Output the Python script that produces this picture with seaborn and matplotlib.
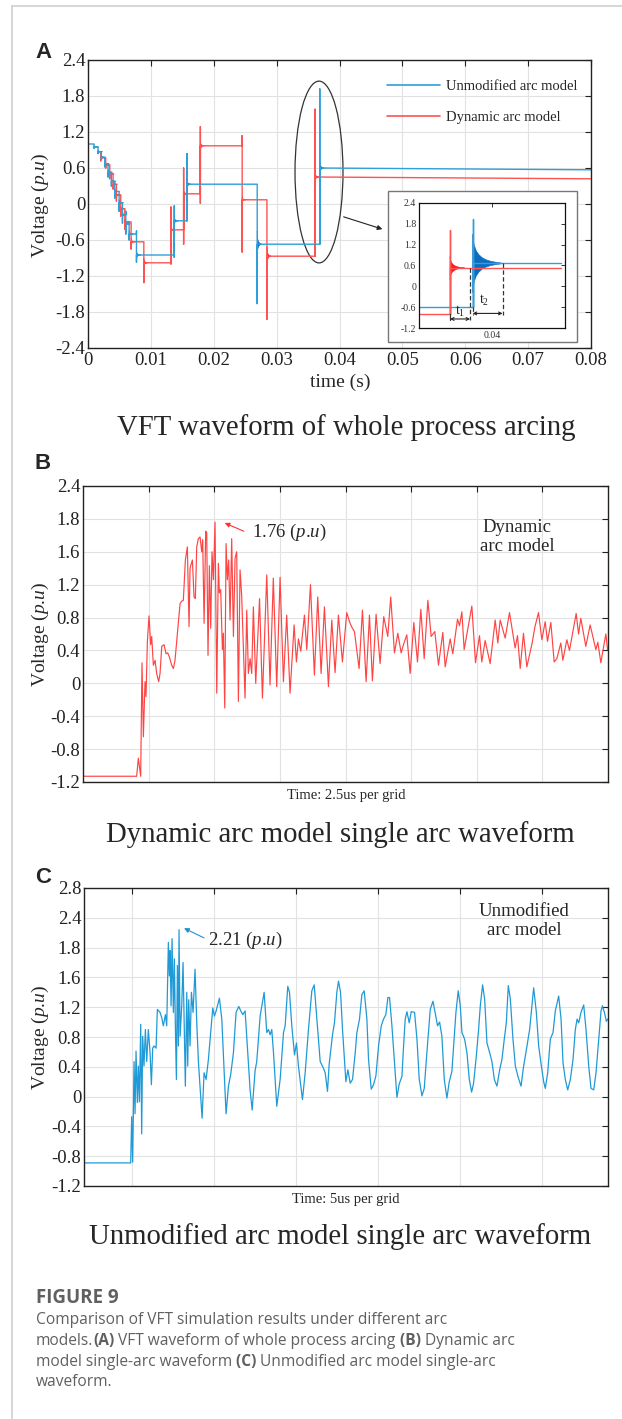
import numpy as np
import pandas as pd
import matplotlib
matplotlib.use("Agg")
import matplotlib.pyplot as plt
import seaborn as sns
from matplotlib.patches import Ellipse, Rectangle
from matplotlib.lines import Line2D

# ====================== DATA ======================
# ---- Panel A : whole-process arcing (time s, voltage p.u.) ----
A_BLUE_T = [0.0, 0.00096, 0.00160, 0.00213, 0.00266, 0.00319, 0.00372, 0.00426, 0.00495,
            0.00548, 0.00601, 0.00654, 0.00771, 0.01372, 0.01574, 0.02691, 0.03686]
A_BLUE_LEVEL = [1.00, 0.95, 0.87, 0.78, 0.67, 0.53, 0.38, 0.21, 0.02,
                -0.18, -0.33, -0.50, -0.85, -0.28, 0.33, -0.67, 0.60]
A_BLUE_HI = [1.39, 0.99, 0.93, 0.85, 0.75, 0.62, 0.48, 0.32, 0.15,
             0.00, -0.12, -0.30, -0.45, -0.03, 0.84, 0.33, 1.92]
A_BLUE_LO = [1.00, 0.93, 0.84, 0.74, 0.62, 0.45, 0.30, 0.10, -0.12,
             -0.32, -0.50, -0.60, -0.97, -0.89, -0.28, -1.66, -0.67]
A_BLUE_RING = [0, 0.02, 0.03, 0.03, 0.03, 0.04, 0.04, 0.05, 0.05,
               0.05, 0.05, 0.06, 0.08, 0.07, 0.09, 0.22, 0.13]
A_BLUE_END = 0.57

A_RED_T = [0.00202, 0.00282, 0.00346, 0.00399, 0.00452, 0.00521, 0.00585, 0.00686,
           0.00888, 0.01319, 0.01521, 0.01787, 0.02452, 0.02846, 0.03612]
A_RED_LEVEL = [0.77, 0.65, 0.50, 0.33, 0.15, -0.08, -0.30, -0.63,
               -0.98, -0.43, 0.17, 0.97, 0.07, -0.87, 0.45]
A_RED_HI = [0.85, 0.72, 0.58, 0.42, 0.25, 0.03, -0.18, -0.50,
            -0.63, -0.05, 0.60, 1.29, 1.14, 0.07, 1.58]
A_RED_LO = [0.72, 0.60, 0.42, 0.25, 0.05, -0.20, -0.42, -0.75,
            -1.31, -1.00, -0.67, 0.01, -0.80, -1.92, -0.87]
A_RED_RING = [0.03, 0.03, 0.03, 0.04, 0.04, 0.04, 0.05, 0.06,
              0.08, 0.06, 0.08, 0.08, 0.05, 0.16, 0.08]
A_RED_END = 0.42

A_XTICKS = [0, 0.01, 0.02, 0.03, 0.04, 0.05, 0.06, 0.07, 0.08]
A_XTICK_LABELS = ["0", "0.01", "0.02", "0.03", "0.04", "0.05", "0.06", "0.07", "0.08"]
A_YTICKS = [2.4, 1.8, 1.2, 0.6, 0, -0.6, -1.2, -1.8, -2.4]
A_YTICK_LABELS = ["2.4", "1.8", "1.2", "0.6", "0", "-0.6", "-1.2", "-1.8", "-2.4"]
A_LEGEND = ["Unmodified arc model", "Dynamic arc model"]

# ---- Panel A inset ----
IN_BLUE_T = [0.0380, 0.03947]
IN_BLUE_LEVEL = [-0.60, 0.66]
IN_BLUE_HI = [-0.60, 1.95]
IN_BLUE_LO = [-0.60, -0.60]
IN_BLUE_RING = [0, 0.85]
IN_BLUE_END = 0.66
IN_RED_T = [0.0380, 0.03885]
IN_RED_LEVEL = [-0.80, 0.53]
IN_RED_HI = [-0.80, 1.62]
IN_RED_LO = [-0.80, -0.80]
IN_RED_RING = [0, 0.35]
IN_RED_END = 0.53
IN_T1 = [0.03885, 0.03940]
IN_T2 = [0.03947, 0.04029]
IN_YTICKS = [2.4, 1.8, 1.2, 0.6, 0, -0.6, -1.2]
IN_YTICK_LABELS = ["2.4", "1.8", "1.2", "0.6", "0", "-0.6", "-1.2"]
IN_XTICKS = [0.04]
IN_XTICK_LABELS = ["0.04"]

# ---- Panel B : dynamic arc model (x in grids of 2.5 us) ----
B_U = [0.0, 0.818, 0.843, 0.879, 0.899, 0.92, 0.945, 0.96, 0.981, 1.006, 1.031, 1.047, 1.072,
       1.098, 1.123, 1.153, 1.174, 1.2, 1.235, 1.265, 1.291, 1.316, 1.352, 1.377, 1.402, 1.479,
       1.504, 1.529, 1.56, 1.59, 1.616, 1.631, 1.667, 1.692, 1.712, 1.733, 1.758, 1.784, 1.809,
       1.824, 1.845, 1.87, 1.885, 1.905, 1.926, 1.946, 1.966, 1.987, 2.012, 2.038, 2.063, 2.078,
       2.098, 2.124, 2.139, 2.16, 2.18, 2.2, 2.22, 2.241, 2.266, 2.292, 2.317, 2.342, 2.368,
       2.393, 2.418, 2.469, 2.495, 2.52, 2.546, 2.571, 2.596, 2.632, 2.69, 2.734, 2.8, 2.85,
       2.9, 2.952, 3.003, 3.054, 3.104, 3.155, 3.217, 3.252, 3.283, 3.319, 3.374, 3.41, 3.466,
       3.526, 3.577, 3.628, 3.679, 3.74, 3.791, 3.841, 3.892, 3.953, 4.019, 4.07, 4.105, 4.136,
       4.207, 4.258, 4.314, 4.365, 4.41, 4.466, 4.527, 4.583, 4.644, 4.689, 4.746, 4.797,
       4.848, 4.883, 4.934, 4.985, 5.041, 5.097, 5.148, 5.199, 5.255, 5.305, 5.361, 5.417,
       5.483, 5.519, 5.595, 5.635, 5.707, 5.737, 5.773, 5.808, 5.925, 5.981, 6.042, 6.077,
       6.128, 6.204, 6.281, 6.321, 6.357, 6.433, 6.499, 6.585, 6.621, 6.662, 6.712, 6.763,
       6.839, 6.89, 6.941, 6.992, 7.043, 7.078, 7.129, 7.18, 7.22, 7.281, 7.312, 7.373,
       7.413, 7.515, 7.551, 7.586, 7.662, 7.728, 7.815, 7.845, 7.891, 7.967, 7.993]
B_V = [-1.13, -1.13, -0.91, -1.13, 0.25, -0.65, 0.02, -0.16, 0.51, 0.82, 0.47, 0.57, 0.22,
       0.28, 0.12, 0.02, 0.12, 0.45, 0.47, 0.36, 0.37, 0.32, 0.22, 0.18, 0.28, 0.97,
       1.00, 1.01, 1.50, 1.66, 0.69, 1.40, 1.50, 1.05, 1.03, 1.66, 1.76, 1.78, 1.60,
       1.75, 0.73, 1.85, 1.83, 0.34, 1.43, 0.67, 1.60, 1.26, 1.96, -0.12, 1.46, 1.10,
       1.14, 0.41, 0.61, -0.30, 1.70, 1.26, 1.50, 0.77, 1.76, 0.57, 1.52, 1.60, -0.22,
       1.38, 1.07, -0.18, 0.89, 0.12, 0.30, 0.12, 0.93, 0.00, 1.03, -0.18, 1.32, -0.02,
       1.28, -0.04, 1.29, 0.02, 0.83, -0.12, 0.71, 0.26, 0.54, 0.39, 0.83, 0.41, 1.20,
       0.10, 1.05, 0.12, 0.93, -0.04, 0.77, 0.13, 0.83, 0.26, 0.86, 0.73, 0.67, 0.63,
       0.18, 0.89, 0.02, 0.83, 0.03, 0.84, 0.24, 0.81, 0.57, 1.05, 0.37, 0.61,
       0.37, 0.47, 0.59, 0.12, 0.74, 0.26, 0.90, 0.30, 1.01, 0.57, 0.63, 0.22,
       0.62, 0.20, 0.54, 0.36, 0.78, 0.70, 0.87, 0.41, 0.94, 0.25, 0.58, 0.26,
       0.52, 0.24, 0.77, 0.49, 0.77, 0.55, 0.86, 0.43, 0.58, 0.18, 0.61, 0.20,
       0.47, 0.70, 0.86, 0.53, 0.75, 0.51, 0.74, 0.26, 0.30, 0.49, 0.28, 0.53,
       0.40, 0.85, 0.60, 0.79, 0.45, 0.71, 0.41, 0.50, 0.25, 0.60, 0.41]
B_XTICKS = [1, 2, 3, 4, 5, 6, 7]
B_YTICKS = [2.4, 2.0, 1.6, 1.2, 0.8, 0.4, 0, -0.4, -0.8, -1.2]
B_YTICK_LABELS = ["2.4", "1.8", "1.6", "1.2", "0.8", "0.4", "0", "-0.4", "-0.8", "-1.2"]

# ---- Panel C : unmodified arc model (x in grids of 5 us) ----
C_U = [0.415, 0.984, 0.996, 1.008, 1.025, 1.037, 1.049, 1.065, 1.077, 1.09, 1.106, 1.118, 1.13,
       1.146, 1.163, 1.179, 1.199, 1.22, 1.236, 1.252, 1.268, 1.293, 1.309, 1.342, 1.362,
       1.382, 1.407, 1.423, 1.443, 1.455, 1.464, 1.476, 1.488, 1.504, 1.516, 1.529, 1.541,
       1.553, 1.565, 1.573, 1.586, 1.606, 1.622, 1.65, 1.667, 1.679, 1.691, 1.707, 1.724,
       1.744, 1.768, 1.789, 1.809, 1.854, 1.878, 1.903, 1.931, 1.984, 2.004, 2.025, 2.065,
       2.094, 2.146, 2.175, 2.203, 2.236, 2.268, 2.301, 2.325, 2.35, 2.378, 2.398, 2.439,
       2.464, 2.5, 2.52, 2.561, 2.61, 2.642, 2.663, 2.683, 2.703, 2.724, 2.764, 2.805, 2.846,
       2.866, 2.898, 2.919, 2.947, 2.98, 3.004, 3.028, 3.077, 3.11, 3.15, 3.191, 3.22, 3.252,
       3.293, 3.333, 3.354, 3.382, 3.402, 3.443, 3.467, 3.496, 3.516, 3.541, 3.565, 3.606,
       3.63, 3.659, 3.687, 3.72, 3.74, 3.772, 3.801, 3.829, 3.862, 3.882, 3.915, 3.943,
       3.972, 4.004, 4.037, 4.065, 4.093, 4.118, 4.138, 4.167, 4.199, 4.228, 4.256, 4.289,
       4.309, 4.329, 4.35, 4.378, 4.402, 4.443, 4.472, 4.5, 4.533, 4.561, 4.593, 4.634,
       4.667, 4.695, 4.723, 4.748, 4.776, 4.805, 4.837, 4.866, 4.898, 4.927, 4.947, 4.975,
       5.0, 5.02, 5.053, 5.081, 5.11, 5.138, 5.162, 5.195, 5.223, 5.244, 5.272, 5.297, 5.325,
       5.358, 5.386, 5.415, 5.447, 5.48, 5.508, 5.536, 5.561, 5.585, 5.61, 5.642, 5.671,
       5.703, 5.74, 5.772, 5.813, 5.845, 5.894, 5.927, 5.955, 5.988, 6.016, 6.036, 6.065,
       6.097, 6.13, 6.158, 6.199, 6.228, 6.252, 6.28, 6.309, 6.341, 6.374, 6.402, 6.423,
       6.443, 6.471, 6.504, 6.532, 6.565, 6.593, 6.626, 6.654, 6.687, 6.715, 6.732, 6.756,
       6.78, 6.796]
C_V = [-0.89, -0.89, -0.27, -0.88, 0.47, -0.23, 0.61, -0.08, 0.41, -0.07, 0.97, -0.50, 0.81,
       0.41, 0.90, 0.47, 0.90, 0.59, 0.16, 0.65, 0.68, 0.65, 1.17, 1.13, 1.06,
       0.95, 1.10, 0.95, 2.07, 1.62, 1.96, 1.22, 2.12, 1.13, 1.85, 0.90, 0.23,
       1.76, 0.68, 2.24, 0.81, 1.22, 1.80, 0.14, 1.40, 0.41, 1.30, 0.68, 1.40,
       1.13, 1.71, 0.99, 0.47, -0.29, 0.32, 0.23, 0.50, 1.19, 1.08, 1.15, 1.32,
       1.04, -0.23, 0.14, 0.30, 0.59, 1.13, 1.21, 1.15, 1.10, 1.15, 0.81, 0.09,
       -0.18, 0.35, 0.47, 1.08, 1.40, 0.86, 0.90, 0.83, 0.90, 0.59, -0.13, 0.23, 0.86,
       0.95, 1.48, 1.40, 0.95, 0.56, 0.72, 0.41, -0.04, 0.32, 0.90, 1.42, 1.50, 1.04,
       0.47, 0.38, 0.32, 0.07, 0.43, 0.83, 0.99, 1.40, 1.55, 1.40, 0.90, 0.20,
       0.36, 0.18, 0.23, 0.59, 0.86, 1.04, 1.37, 1.42, 1.04, 0.50, 0.10, 0.16,
       0.28, 0.68, 0.95, 1.04, 1.10, 1.33, 1.33, 0.95, 0.45, -0.01, 0.17, 0.27,
       0.68, 1.04, 1.14, 0.99, 1.14, 1.13, 0.77, 0.23, 0.01, 0.11, 0.59, 1.17,
       1.28, 1.12, 0.95, 1.00, 0.81, 0.23, -0.02, 0.20, 0.34, 0.81, 1.13, 1.42,
       1.22, 0.86, 0.77, 0.59, 0.23, 0.06, 0.18, 0.54, 0.90, 1.22, 1.50, 1.31, 0.72,
       0.59, 0.47, 0.23, 0.14, 0.36, 0.50, 0.77, 0.99, 1.49, 1.31, 0.77, 0.41,
       0.27, 0.14, 0.41, 0.68, 0.90, 1.46, 1.13, 0.68, 0.41, 0.20, 0.11, 0.32,
       0.77, 0.86, 1.15, 1.35, 1.04, 0.45, 0.23, 0.09, 0.23, 0.50, 0.90, 1.04,
       0.99, 1.13, 1.23, 0.90, 0.41, 0.11, 0.09, 0.32, 0.77, 1.15, 1.22, 1.13,
       1.01, 1.04]
C_XTICKS = [1, 2, 3, 4, 5, 6]
C_YTICKS = [2.8, 2.4, 2.0, 1.6, 1.2, 0.8, 0.4, 0, -0.4, -0.8, -1.2]
C_YTICK_LABELS = ["2.8", "2.4", "1.8", "1.6", "1.2", "0.8", "0.4", "0", "-0.4", "-0.8", "-1.2"]

# ====================== STYLE ======================
sns.set_theme(style="white")
plt.rcParams["font.family"] = ["Liberation Serif", "DejaVu Serif"]
plt.rcParams["mathtext.fontset"] = "custom"
plt.rcParams["mathtext.rm"] = "Liberation Serif"
plt.rcParams["mathtext.it"] = "Liberation Serif:italic"
plt.rcParams["axes.unicode_minus"] = False

W, H = 622, 1419
fig = plt.figure(figsize=(W / 100, H / 100), dpi=100)
fig.patch.set_facecolor("white")

BLUE = "#2f9fd8"
BLUE_D = "#0b6cc0"
RED = "#ff5252"
RED_D = "#ff1a1a"
GRID = "#e2e2e2"
RING_X = np.array([0, .05, .12, .2, .3, .42, .56, .72, .88, 1.0])
RING_A = np.array([1, .62, .42, .3, .2, .13, .08, .045, .02, 0.0])
VLABEL = r"Voltage ($\it{p}$.$\it{u}$)"


def fx(px):
    return px / W


def fy(py):
    return 1 - py / H


def box(l, t, r, b):
    return [fx(l), fy(b), (r - l) / W, (b - t) / H]


def staircase(ax, t, lev, hi, lo, ring, t_end, v_end, color, dark, lw, ring_w):
    xs, ys = [], []
    prev = hi[0]
    for i in range(len(t)):
        xs += [t[i]] * 4
        ys += [prev, hi[i], lo[i], lev[i]]
        prev = lev[i]
    xs.append(t_end)
    ys.append(v_end)
    sns.lineplot(x=xs, y=ys, sort=False, estimator=None, color=color, lw=lw, ax=ax)
    for i in range(len(t)):
        if ring[i] > 0:
            px = t[i] + ring_w * RING_X
            upper = lev[i] + ring[i] * RING_A
            lower = lev[i] - ring[i] * RING_A
            ax.fill(np.r_[px, px[::-1]], np.r_[upper, lower[::-1]], color=dark, lw=0.4)


def style_axes(ax, lbl_size):
    ax.grid(True, color=GRID, lw=0.8)
    ax.set_axisbelow(True)
    for s in ax.spines.values():
        s.set_color("#222222")
        s.set_linewidth(1.0)
    ax.tick_params(direction="in", top=True, right=True, length=4, width=0.8,
                   labelsize=lbl_size, colors="#222222", pad=2)


# ---- frame lines ----
fig.add_artist(Line2D([fx(12), fx(12)], [0, fy(6)], color="#cfcfcf", lw=1.2))
fig.add_artist(Line2D([fx(12), 1], [fy(6), fy(6)], color="#cfcfcf", lw=1.2))

# ====================== PANEL A ======================
axA = fig.add_axes(box(88, 60, 591, 348))
staircase(axA, A_RED_T, A_RED_LEVEL, A_RED_HI, A_RED_LO, A_RED_RING, 0.08, A_RED_END,
          RED, RED_D, 1.0, 0.0007)
staircase(axA, A_BLUE_T, A_BLUE_LEVEL, A_BLUE_HI, A_BLUE_LO, A_BLUE_RING, 0.08, A_BLUE_END,
          BLUE, BLUE_D, 1.0, 0.0007)
axA.set_xlim(0, 0.08)
axA.set_ylim(-2.4, 2.4)
axA.set_xticks(A_XTICKS, A_XTICK_LABELS)
axA.set_yticks(A_YTICKS, A_YTICK_LABELS)
axA.set_xlabel("")
axA.set_ylabel("")
style_axes(axA, 13.5)
axA.tick_params(axis="x", pad=3)
handles = [Line2D([], [], color=BLUE, lw=1.2), Line2D([], [], color=RED, lw=1.2)]
axA.legend(handles, A_LEGEND, loc="upper left", bbox_to_anchor=(0.595, 0.93), frameon=False,
           fontsize=10.5, handlelength=3.6, handletextpad=0.45, labelspacing=1.2,
           borderaxespad=0, borderpad=0)
axA.add_patch(Ellipse((0.03674, 0.533), 0.00763, 3.03, fill=False, ec="#333333", lw=0.9))
axA.annotate("", xy=(0.04724, -0.433), xytext=(0.04024, -0.2),
             arrowprops=dict(arrowstyle="-|>", color="#222222", lw=0.8, mutation_scale=7))

# inset outer box
fig.add_artist(Rectangle((fx(388), fy(342)), 189 / W, 151 / H, transform=fig.transFigure,
                         facecolor="white", edgecolor="#777777", lw=1.0, zorder=1))
axI = fig.add_axes(box(419, 203, 565, 328), zorder=2)
staircase(axI, IN_BLUE_T, IN_BLUE_LEVEL, IN_BLUE_HI, IN_BLUE_LO, IN_BLUE_RING, 0.0419,
          IN_BLUE_END, BLUE, BLUE_D, 1.0, 0.00085)
staircase(axI, IN_RED_T, IN_RED_LEVEL, IN_RED_HI, IN_RED_LO, IN_RED_RING, 0.0419,
          IN_RED_END, RED, RED_D, 1.0, 0.00040)
axI.set_xlim(0.038, 0.042)
axI.set_ylim(-1.2, 2.4)
axI.set_yticks(IN_YTICKS, IN_YTICK_LABELS)
axI.set_xticks(IN_XTICKS, IN_XTICK_LABELS)
for s in axI.spines.values():
    s.set_color("#111111")
    s.set_linewidth(0.9)
axI.tick_params(direction="in", top=True, right=True, length=3, width=0.7, labelsize=7,
                colors="#333333", pad=2)
axI.set_xlabel("")
axI.set_ylabel("")
dash = dict(color="#333333", lw=0.9, ls=(0, (3.5, 2)))
axI.plot([IN_T1[1], IN_T1[1]], [IN_RED_LEVEL[1], -0.97], **dash)
axI.plot([IN_T2[0], IN_T2[0]], [IN_BLUE_LEVEL[0], -0.82], **dash)
axI.plot([IN_T2[1], IN_T2[1]], [IN_BLUE_LEVEL[1], -0.82], **dash)
axI.plot([IN_T1[0], IN_T1[0]], [-0.8, -0.97], color="#333333", lw=0.9)
axI.annotate("", xy=(IN_T1[0], -0.94), xytext=(IN_T1[1], -0.94),
             arrowprops=dict(arrowstyle="<->", color="#222222", lw=0.8, mutation_scale=5,
                             shrinkA=0, shrinkB=0))
axI.annotate("", xy=(IN_T2[0], -0.78), xytext=(IN_T2[1], -0.78),
             arrowprops=dict(arrowstyle="<->", color="#222222", lw=0.8, mutation_scale=5,
                             shrinkA=0, shrinkB=0))
axI.text(sum(IN_T1) / 2, -0.72, r"t$_1$", ha="center", va="center", fontsize=10)
axI.text(sum(IN_T2) / 2 - 0.0001, -0.42, r"t$_2$", ha="center", va="center", fontsize=10)

fig.text(fx(40), fy(205), VLABEL, rotation=90, ha="center", va="center", fontsize=14)
fig.text(fx(340), fy(382), "time (s)", ha="center", va="center", fontsize=14)
fig.text(fx(346), fy(428), "VFT waveform of whole process arcing", ha="center", va="center",
         fontsize=20.7)
fig.text(fx(35), fy(58), "A", fontsize=16, fontweight="bold", family="Liberation Sans",
         va="baseline")

# ====================== PANEL B ======================
axB = fig.add_axes(box(83, 486, 608, 782))
sns.lineplot(x=B_U, y=B_V, sort=False, estimator=None, color="#ff4444", lw=0.85, ax=axB)
axB.set_xlim(0, 8)
axB.set_ylim(-1.2, 2.4)
axB.set_xticks(B_XTICKS, [""] * len(B_XTICKS))
axB.set_yticks(B_YTICKS, B_YTICK_LABELS)
axB.set_xlabel("")
axB.set_ylabel("")
style_axes(axB, 13.5)
axB.text(0.827, 0.828, "Dynamic\narc model", transform=axB.transAxes, ha="center",
         va="center", fontsize=13.5, linespacing=1.15)
axB.annotate("", xy=(2.16, 1.95), xytext=(2.45, 1.85),
             arrowprops=dict(arrowstyle="-|>", color="#ff3333", lw=0.8, mutation_scale=7,
                             shrinkA=0, shrinkB=0))
axB.text(2.58, 1.83, r"1.76 ($\it{p}$.$\it{u}$)", ha="left", va="center", fontsize=13.5)
fig.text(fx(40), fy(634), VLABEL, rotation=90, ha="center", va="center", fontsize=14)
fig.text(fx(346), fy(795), "Time: 2.5us per grid", ha="center", va="center", fontsize=10.5)
fig.text(fx(340), fy(835), "Dynamic arc model single arc waveform", ha="center",
         va="center", fontsize=20.7)
fig.text(fx(35), fy(469), "B", fontsize=16, fontweight="bold", family="Liberation Sans",
         va="baseline")

# ====================== PANEL C ======================
axC = fig.add_axes(box(84, 888, 608, 1186))
sns.lineplot(x=C_U, y=C_V, sort=False, estimator=None, color="#1f9ad6", lw=0.9, ax=axC)
axC.set_xlim(0.415, 6.8)
axC.set_ylim(-1.2, 2.8)
axC.set_xticks(C_XTICKS, [""] * len(C_XTICKS))
axC.set_yticks(C_YTICKS, C_YTICK_LABELS)
axC.set_xlabel("")
axC.set_ylabel("")
style_axes(axC, 13.5)
axC.text(0.84, 0.889, "Unmodified\narc model", transform=axC.transAxes, ha="center",
         va="center", fontsize=13.5, linespacing=1.15)
axC.annotate("", xy=(1.634, 2.26), xytext=(1.878, 2.13),
             arrowprops=dict(arrowstyle="-|>", color="#1f8fd0", lw=0.8, mutation_scale=7,
                             shrinkA=0, shrinkB=0))
axC.text(1.927, 2.1, r"2.21 ($\it{p}$.$\it{u}$)", ha="left", va="center", fontsize=13.5)
fig.text(fx(40), fy(1037), VLABEL, rotation=90, ha="center", va="center", fontsize=14)
fig.text(fx(346), fy(1200), "Time: 5us per grid", ha="center", va="center", fontsize=10.5)
fig.text(fx(340), fy(1237), "Unmodified arc model single arc waveform", ha="center",
         va="center", fontsize=20.7)
fig.text(fx(35), fy(883), "C", fontsize=16, fontweight="bold", family="Liberation Sans",
         va="baseline")

# ====================== CAPTION ======================
CAP_COLOR = "#606060"
fig.text(fx(36), fy(1298), "FIGURE 9", fontsize=13.5, fontweight="bold", color=CAP_COLOR,
         family="Open Sans", va="center")
renderer = fig.canvas.get_renderer()
caption_lines = [
    [("Comparison of VFT simulation results under different arc", False)],
    [("models.", False), ("(A)", True), (" VFT waveform of whole process arcing", False),
     (" (B)", True), (" Dynamic arc", False)],
    [("model single-arc waveform", False), (" (C)", True),
     (" Unmodified arc model single-arc", False)],
    [("waveform.", False)],
]
for k, parts in enumerate(caption_lines):
    x = fx(36)
    y = fy(1320 + 20.8 * k)
    for txt, bold in parts:
        t = fig.text(x, y, txt, fontsize=11.2, color=CAP_COLOR, family="Open Sans",
                     fontweight="bold" if bold else "normal", va="center")
        bb = t.get_window_extent(renderer=renderer)
        x = bb.x1 / fig.bbox.width

fig.savefig("out.png", dpi=100, facecolor="white")
